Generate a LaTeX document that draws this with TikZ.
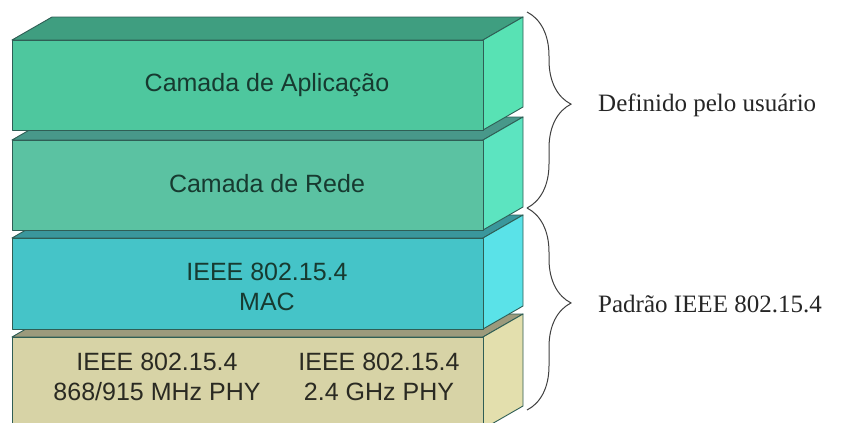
\documentclass[tikz,border=0pt]{standalone}
\usepackage{fontspec}
\setmainfont{Liberation Serif}
\newfontfamily\arialfont{Liberation Sans}
\usetikzlibrary{decorations.pathreplacing}
\definecolor{appfront}{HTML}{4EC79E}
\definecolor{apptop}{HTML}{3F9E80}
\definecolor{appside}{HTML}{58E2B4}
\definecolor{redefront}{HTML}{5BC2A2}
\definecolor{redetop}{HTML}{48988A}
\definecolor{redeside}{HTML}{5CE4C0}
\definecolor{macfront}{HTML}{45C4C8}
\definecolor{mactop}{HTML}{3A979C}
\definecolor{macside}{HTML}{5AE2E8}
\definecolor{phyfront}{HTML}{D7D3A6}
\definecolor{phytop}{HTML}{9C9A7C}
\definecolor{physide}{HTML}{E3DFAD}
\definecolor{edgeline}{HTML}{2F5E55}
\definecolor{labeltext}{HTML}{173A30}
\definecolor{phytext}{HTML}{2A2A22}
\tikzset{
  face/.style={draw=edgeline, line width=0.9pt, line join=round},
  lbl/.style={font=\arialfont\fontsize{25}{30}\selectfont, text=labeltext, align=center, inner sep=0pt},
  note/.style={font=\fontsize{25}{30}\selectfont, text=black!85, anchor=west, inner sep=0pt},
  curly/.style={decorate, decoration={brace, amplitude=44pt, aspect=0.47}, draw=black!75, line width=1pt}
}
% one block of the stack: top y, height, colour prefix
\newcommand{\slab}[3]{%
  \filldraw[face, fill=#3top] (12,#1) -- ++(40,-23) -- ++(471,0) -- ++(-40,23) -- cycle;
  \filldraw[face, fill=#3side] (483,#1) -- ++(40,-23) -- ++(0,#2) -- ++(-40,23) -- cycle;
  \filldraw[face, fill=#3front] (12,#1) rectangle ++(471,#2);
}

\begin{document}
\begin{tikzpicture}[x=1pt, y=-1pt]
  \useasboundingbox[fill=white] (0,0) rectangle (849,423);

  \begin{scope}
    \clip (0,0) rectangle (849,423);
    \slab{337}{92}{phy}
  \end{scope}
  \slab{238}{91}{mac}
  \slab{140}{90}{rede}
  \slab{40}{90}{app}

  \node[lbl] (app) at (267,85) {Camada de Aplicação};
  \node[lbl] (rede) at (267,184) {Camada de Rede};
  \node[lbl] (mac) at (267,287) {IEEE 802.15.4\\MAC};
  \node[lbl, text=phytext] (phyA) at (157,377) {IEEE 802.15.4\\868/915 MHz PHY};
  \node[lbl, text=phytext] (phyB) at (379,377) {IEEE 802.15.4\\2.4 GHz PHY};

  \coordinate (user1) at (527,12);
  \coordinate (user2) at (527,208);
  \coordinate (std1) at (527,208);
  \coordinate (std2) at (527,410);
  \draw[curly] (user1) -- (user2);
  \draw[curly] (std1) -- (std2);

  \node[note] (user) at (598,105) {Definido pelo usuário};
  \node[note] (std) at (598,304) {Padrão IEEE 802.15.4};
\end{tikzpicture}
\end{document}
